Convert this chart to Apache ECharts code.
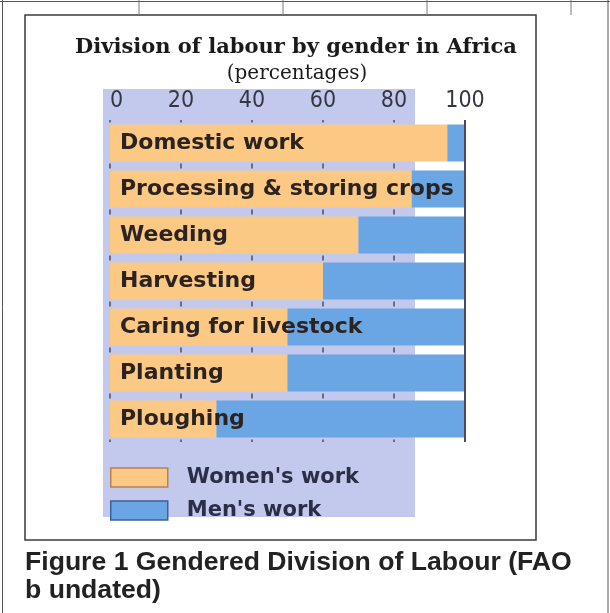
<!DOCTYPE html>
<html>
<head>
<meta charset="utf-8">
<script src="https://cdn.jsdelivr.net/npm/echarts@6/dist/echarts.min.js"></script>
<style>
  html, body { margin: 0; padding: 0; background: #ffffff; }
  #chart { width: 610px; height: 613px; }
</style>
</head>
<body>
<div id="chart"></div>
<script>
// ---- data ----
const categories = ['Domestic work', 'Processing & storing crops', 'Weeding', 'Harvesting', 'Caring for livestock', 'Planting', 'Ploughing'];
const womenWork = [95, 85, 70, 60, 50, 50, 30];
const menWork = [5, 15, 30, 40, 50, 50, 70];
const axisMin = 0, axisMax = 100, axisStep = 20;
const titleText = 'Division of labour by gender in Africa';
const subtitleText = '(percentages)';
const captionText = 'Figure 1 Gendered Division of Labour (FAO\nb undated)';
const seriesNames = ["Women's work", "Men's work"];

const chart = echarts.init(document.getElementById('chart'), null, { renderer: 'canvas' });

const option = {
  animation: false,
  backgroundColor: '#ffffff',
  grid: { left: 110, right: 145, top: 120, height: 322, containLabel: false },
  xAxis: {
    type: 'value', position: 'top', min: axisMin, max: axisMax, interval: axisStep,
    axisLine: { show: false }, axisTick: { show: false },
    axisLabel: {
      margin: 7, alignMinLabel: 'left',
      fontFamily: '"DejaVu Sans Condensed", "Liberation Sans Narrow", sans-serif',
      fontSize: 23, color: '#353644'
    },
    splitLine: { show: true, lineStyle: { color: '#4e4f5c', width: 1.5, type: [5, 41], dashOffset: 2.5 } }
  },
  yAxis: {
    type: 'category', inverse: true, data: categories, z: 10,
    axisLine: { show: false }, axisTick: { show: false },
    axisLabel: {
      inside: true, margin: 10,
      fontFamily: '"DejaVu Sans", sans-serif', fontWeight: 'bold', fontSize: 22, color: '#2b2320'
    }
  },
  legend: {
    orient: 'vertical', left: 110, top: 467, itemWidth: 57, itemHeight: 19, itemGap: 12,
    icon: 'rect', padding: 0,
    textStyle: { fontFamily: '"DejaVu Sans", sans-serif', fontWeight: 'bold', fontSize: 21, color: '#2b2e48', padding: [0, 0, 0, 14] },
    data: [
      { name: seriesNames[0], itemStyle: { borderColor: '#b48255', borderWidth: 1.5 } },
      { name: seriesNames[1], itemStyle: { borderColor: '#3f5f9c', borderWidth: 1.5 } }
    ]
  },
  series: [
    {
      name: seriesNames[0], type: 'bar', stack: 'total', data: womenWork, barWidth: 37,
      itemStyle: { color: '#fcc985' },
      markLine: {
        silent: true, symbol: 'none', label: { show: false },
        lineStyle: { color: '#4a4b5a', width: 2, type: 'solid' },
        data: [{ xAxis: axisMax }]
      }
    },
    {
      name: seriesNames[1], type: 'bar', stack: 'total', data: menWork, barWidth: 37,
      itemStyle: { color: '#6aa6e4' }
    }
  ],
  graphic: [
    { type: 'rect', z: -10, silent: true, shape: { x: 103, y: 89, width: 312, height: 428 }, style: { fill: '#c3c9ec' } },
    { type: 'rect', z: -5, silent: true, shape: { x: 25, y: 15, width: 511, height: 525 }, style: { fill: 'none', stroke: '#3a3a3a', lineWidth: 1.5 } },
    { type: 'line', silent: true, shape: { x1: 0, y1: 1.5, x2: 610, y2: 1.5 }, style: { stroke: '#555', lineWidth: 1 } },
    { type: 'line', silent: true, shape: { x1: 2.5, y1: 0, x2: 2.5, y2: 613 }, style: { stroke: '#555', lineWidth: 1 } },
    { type: 'line', silent: true, shape: { x1: 608, y1: 0, x2: 608, y2: 613 }, style: { stroke: '#555', lineWidth: 1 } },
    { type: 'line', silent: true, shape: { x1: 139, y1: 0, x2: 139, y2: 15 }, style: { stroke: '#777', lineWidth: 1 } },
    { type: 'line', silent: true, shape: { x1: 283, y1: 0, x2: 283, y2: 15 }, style: { stroke: '#777', lineWidth: 1 } },
    { type: 'line', silent: true, shape: { x1: 427, y1: 0, x2: 427, y2: 15 }, style: { stroke: '#777', lineWidth: 1 } },
    { type: 'line', silent: true, shape: { x1: 571, y1: 0, x2: 571, y2: 15 }, style: { stroke: '#777', lineWidth: 1 } },
    { type: 'text', silent: true, style: { x: 296, y: 48, text: titleText, textAlign: 'center', textVerticalAlign: 'middle',
        font: 'bold 21px "DejaVu Serif", serif', fill: '#1a1a1a' } },
    { type: 'text', silent: true, style: { x: 297, y: 74, text: subtitleText, textAlign: 'center', textVerticalAlign: 'middle',
        font: '20px "DejaVu Serif", serif', fill: '#1a1a1a' } },
    { type: 'text', silent: true, style: { x: 25, y: 549, text: captionText, textAlign: 'left', textVerticalAlign: 'top',
        font: 'bold 26.6px "Liberation Sans", Arial, sans-serif', lineHeight: 28, fill: '#222222' } }
  ]
};

chart.setOption(option);
</script>
</body>
</html>
